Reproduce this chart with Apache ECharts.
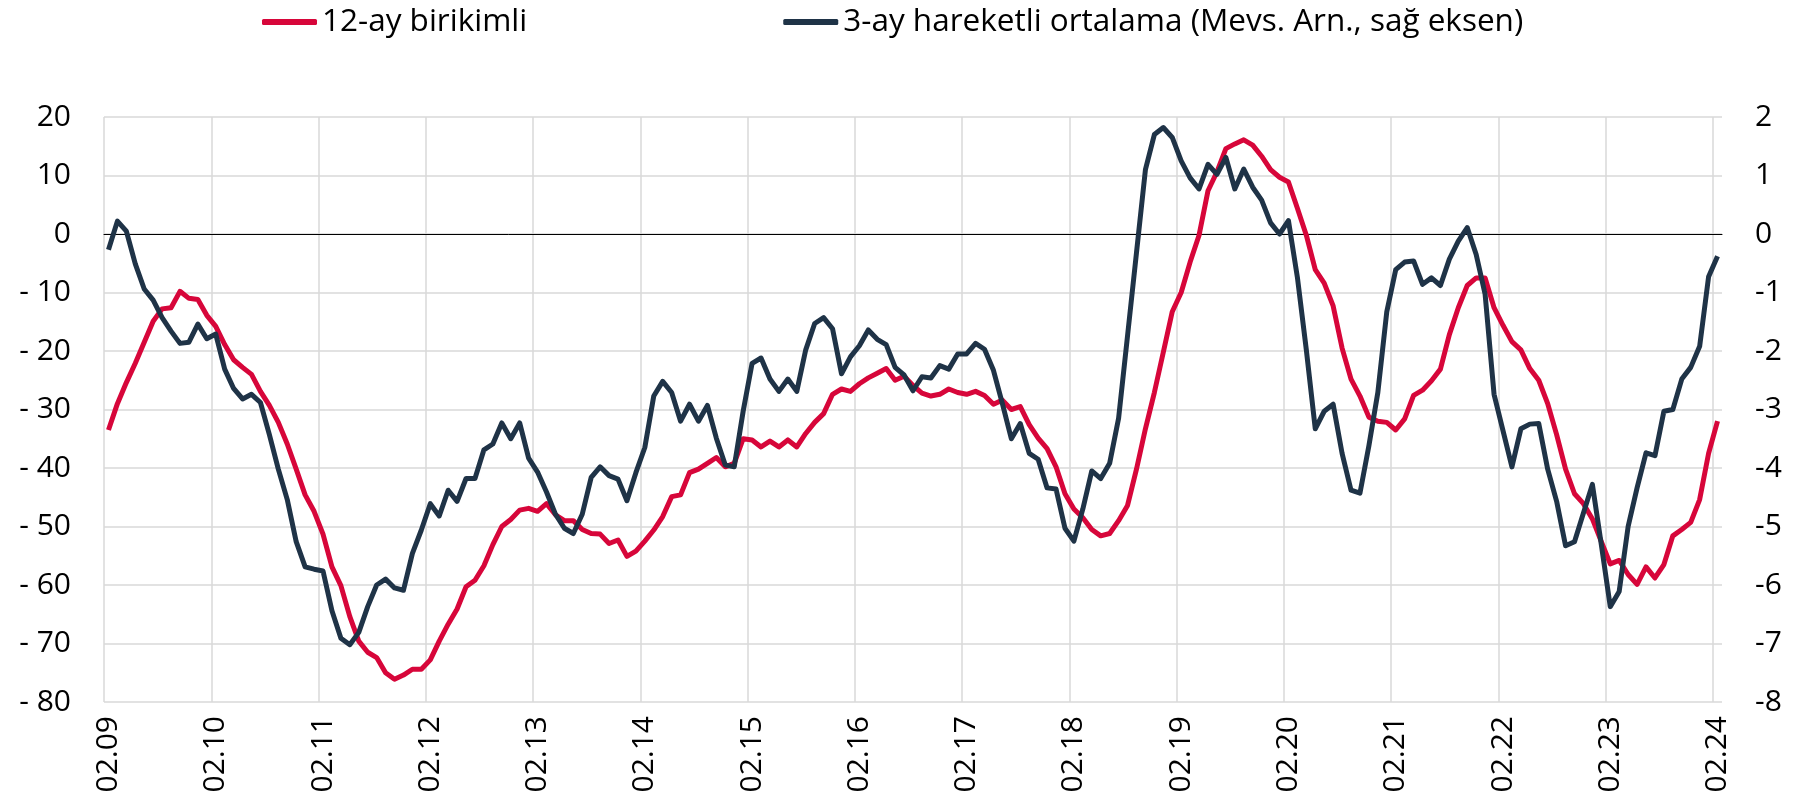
<!DOCTYPE html>
<html>
<head>
<meta charset="utf-8">
<script src="https://cdn.jsdelivr.net/npm/echarts@6/dist/echarts.min.js"></script>
<style>
  html, body { margin: 0; padding: 0; background: #ffffff; }
  #chart { width: 1813px; height: 811px; }
</style>
</head>
<body>
<div id="chart"></div>
<script>
// Monthly observations, 02.2009 – 02.2024, labelled MM.YY
const START_YEAR = 2009;
const START_MONTH = 2;
const MONTH_COUNT = 181;
const months = [];
for (let k = 0; k < MONTH_COUNT; k++) {
  const m = (START_MONTH - 1 + k) % 12 + 1;
  const y = START_YEAR + Math.floor((START_MONTH - 1 + k) / 12);
  months.push(String(m).padStart(2, '0') + '.' + String(y % 100).padStart(2, '0'));
}

const seriesNames = ['12-ay birikimli', '3-ay hareketli ortalama (Mevs. Arn., sağ eksen)'];

// 12-month cumulative (left axis)
const cumulative12m = [
  -33.5, -29.0, -25.4, -22.1, -18.5, -14.9, -12.8, -12.6, -9.8, -11.0,
  -11.2, -13.9, -15.8, -18.9, -21.5, -22.8, -24.0, -26.9, -29.3, -32.2,
  -35.9, -40.2, -44.6, -47.4, -51.3, -56.9, -60.1, -65.4, -69.6, -71.5,
  -72.4, -75.0, -76.1, -75.4, -74.4, -74.4, -72.8, -69.6, -66.7, -64.1,
  -60.3, -59.2, -56.7, -53.1, -50.0, -48.8, -47.2, -46.9, -47.4, -46.1,
  -48.0, -49.0, -49.0, -50.5, -51.2, -51.3, -52.9, -52.3, -55.1, -54.2,
  -52.5, -50.6, -48.3, -44.9, -44.6, -40.8, -40.2, -39.2, -38.2, -39.8,
  -39.2, -35.0, -35.2, -36.4, -35.4, -36.4, -35.2, -36.4, -34.1, -32.2,
  -30.7, -27.4, -26.5, -26.9, -25.6, -24.6, -23.8, -23.0, -25.0, -24.3,
  -25.9, -27.2, -27.7, -27.4, -26.5, -27.1, -27.4, -26.9, -27.6, -29.1,
  -28.4, -30.0, -29.5, -32.6, -34.9, -36.7, -39.8, -44.4, -47.0, -48.5,
  -50.5, -51.6, -51.2, -49.0, -46.4, -40.2, -33.3, -27.1, -20.2, -13.3,
  -10.0, -4.8, -0.2, 7.4, 10.6, 14.6, 15.4, 16.1, 15.2, 13.3,
  11.0, 9.7, 8.9, 4.4, -0.2, -6.1, -8.4, -12.3, -19.5, -24.8,
  -27.7, -31.3, -32.0, -32.2, -33.5, -31.6, -27.6, -26.7, -25.1, -23.1,
  -17.2, -12.6, -8.8, -7.5, -7.5, -12.6, -15.6, -18.4, -19.8, -23.0,
  -25.0, -29.0, -34.3, -40.2, -44.4, -46.1, -48.7, -52.6, -56.4, -55.8,
  -58.2, -59.9, -56.9, -58.8, -56.5, -51.6, -50.5, -49.3, -45.4, -37.5,
  -32.0
];

// 3-month moving average, seasonally adjusted (right axis)
const movingAvg3m = [
  -0.27, 0.22, 0.05, -0.51, -0.94, -1.13, -1.43, -1.66, -1.87, -1.85,
  -1.54, -1.79, -1.71, -2.31, -2.64, -2.82, -2.74, -2.88, -3.43, -4.02,
  -4.54, -5.26, -5.69, -5.73, -5.76, -6.44, -6.91, -7.02, -6.81, -6.37,
  -6.00, -5.90, -6.05, -6.09, -5.46, -5.06, -4.61, -4.82, -4.38, -4.57,
  -4.18, -4.18, -3.69, -3.59, -3.23, -3.50, -3.23, -3.83, -4.07, -4.41,
  -4.79, -5.03, -5.12, -4.79, -4.16, -3.98, -4.13, -4.19, -4.56, -4.08,
  -3.65, -2.77, -2.52, -2.71, -3.20, -2.91, -3.20, -2.93, -3.49, -3.95,
  -3.98, -3.03, -2.21, -2.12, -2.48, -2.69, -2.48, -2.69, -1.98, -1.53,
  -1.43, -1.62, -2.39, -2.10, -1.91, -1.64, -1.80, -1.89, -2.28, -2.41,
  -2.68, -2.44, -2.46, -2.25, -2.31, -2.05, -2.05, -1.87, -1.97, -2.33,
  -2.90, -3.50, -3.24, -3.75, -3.85, -4.34, -4.36, -5.03, -5.25, -4.70,
  -4.05, -4.18, -3.92, -3.15, -1.74, -0.32, 1.10, 1.70, 1.82, 1.65,
  1.25, 0.96, 0.77, 1.19, 1.02, 1.31, 0.77, 1.11, 0.80, 0.58,
  0.19, 0.00, 0.23, -0.74, -1.98, -3.33, -3.03, -2.91, -3.75, -4.38,
  -4.43, -3.62, -2.71, -1.33, -0.61, -0.48, -0.46, -0.86, -0.75, -0.88,
  -0.43, -0.12, 0.11, -0.35, -1.03, -2.74, -3.36, -3.98, -3.33, -3.25,
  -3.24, -4.02, -4.57, -5.33, -5.26, -4.77, -4.28, -5.31, -6.37, -6.11,
  -5.00, -4.34, -3.74, -3.79, -3.03, -3.00, -2.48, -2.28, -1.92, -0.73,
  -0.38
];

// Axis tick values
const leftTicks = [-80, -70, -60, -50, -40, -30, -20, -10, 0, 10, 20];
const rightTicks = [-8, -7, -6, -5, -4, -3, -2, -1, 0, 1, 2];

const RED = '#d7063a';
const NAVY = '#1f3347';
const GRID = '#d9d9d9';
const FONT = 'Open Sans';

const chart = echarts.init(document.getElementById('chart'), null, { renderer: 'canvas' });

chart.setOption({
  animation: false,
  backgroundColor: '#ffffff',
  textStyle: { fontFamily: FONT },
  legend: {
    data: seriesNames,
    top: 1,
    left: 257,
    itemGap: 256,
    itemWidth: 55,
    itemHeight: 6,
    icon: 'roundRect',
    textStyle: { fontFamily: FONT, fontSize: 31.5, color: '#000000' }
  },
  grid: { left: 104, right: 91, top: 117, bottom: 109 },
  xAxis: [
    {
      type: 'category',
      data: months,
      boundaryGap: true,
      axisLine: { show: false },
      axisTick: { show: false },
      axisLabel: {
        interval: 11, rotate: 90, margin: 14,
        fontFamily: FONT, fontSize: 30, color: '#000000'
      },
      splitLine: {
        show: true, interval: 11, showMaxLine: false,
        lineStyle: { color: GRID, width: 1.5 }
      }
    },
    {
      // zero line of the left axis
      type: 'category',
      data: months,
      boundaryGap: true,
      position: 'bottom',
      axisLine: { show: true, onZero: true, onZeroAxisIndex: 0, lineStyle: { color: '#000000', width: 1 } },
      axisTick: { show: false },
      axisLabel: { show: false },
      splitLine: { show: false }
    }
  ],
  yAxis: [
    {
      type: 'value',
      position: 'left',
      min: leftTicks[0],
      max: leftTicks[leftTicks.length - 1],
      interval: leftTicks[1] - leftTicks[0],
      axisLine: { show: false },
      axisTick: { show: false },
      axisLabel: {
        margin: 33, fontFamily: FONT, fontSize: 30, color: '#000000',
        formatter: v => (v < 0 ? '- ' + Math.abs(v) : String(v))
      },
      splitLine: { show: true, lineStyle: { color: GRID, width: 1.5 } }
    },
    {
      type: 'value',
      position: 'right',
      min: rightTicks[0],
      max: rightTicks[rightTicks.length - 1],
      interval: rightTicks[1] - rightTicks[0],
      axisLine: { show: false },
      axisTick: { show: false },
      axisLabel: { margin: 33, fontFamily: FONT, fontSize: 30, color: '#000000' },
      splitLine: { show: false }
    }
  ],
  series: [
    {
      name: seriesNames[0],
      type: 'line',
      xAxisIndex: 0,
      yAxisIndex: 0,
      data: cumulative12m,
      symbol: 'none',
      z: 3,
      itemStyle: { color: RED },
      lineStyle: { color: RED, width: 5, join: 'round' }
    },
    {
      name: seriesNames[1],
      type: 'line',
      xAxisIndex: 0,
      yAxisIndex: 1,
      data: movingAvg3m,
      symbol: 'none',
      z: 4,
      itemStyle: { color: NAVY },
      lineStyle: { color: NAVY, width: 5, join: 'round' }
    }
  ]
});
</script>
</body>
</html>
